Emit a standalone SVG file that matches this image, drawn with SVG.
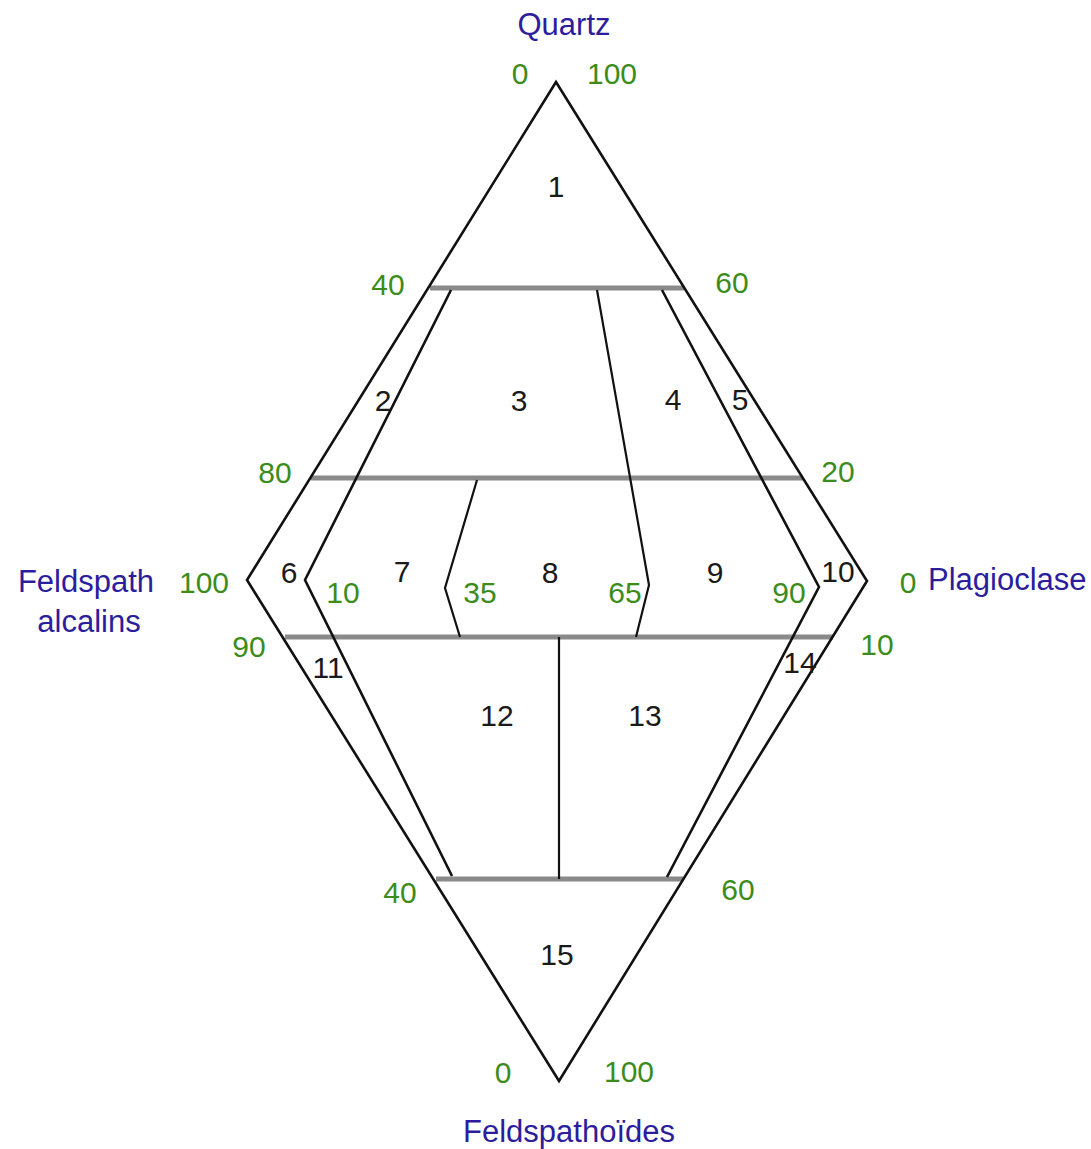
<svg xmlns="http://www.w3.org/2000/svg" width="1091" height="1149" viewBox="0 0 1091 1149">
<style>
.edge{fill:none;stroke:#111;stroke-width:2.6;stroke-linejoin:miter}
.thin{fill:none;stroke:#111;stroke-width:2.2}
.grid{stroke:#8a8a8a;stroke-width:5;fill:none}
text{font-family:"Liberation Sans",Arial,sans-serif;font-size:30px;text-anchor:middle}
.num{fill:#1a1a1a}
.pct{fill:#3c8c1c}
.pole{fill:#2b1d9b;font-size:31px}
</style>
<rect width="1091" height="1149" fill="#fff"/>
<g id="grid-lines">
<line class="grid" x1="430" y1="288" x2="684" y2="288"/>
<line class="grid" x1="311" y1="478" x2="803" y2="478"/>
<line class="grid" x1="285" y1="637" x2="833" y2="637"/>
<line class="grid" x1="436" y1="879" x2="683" y2="879"/>
</g>
<g id="connectors">
<polygon class="edge" points="556,82 247,580 559,1081 867,581"/>
<polyline class="edge" points="451,290 305,580 452,876"/>
<polyline class="edge" points="662,290 819,587 667,877"/>
<polyline class="thin" points="597,290 649,585 636,637"/>
<polyline class="thin" points="477,480 445,588 460,637"/>
<line class="thin" x1="559" y1="637" x2="559" y2="879"/>
</g>
<g id="poles">
<g id="pole-Q"><text class="pole" x="564" y="35">Quartz</text></g>
<g id="pole-A"><text class="pole" x="86" y="592">Feldspath</text><text class="pole" x="89" y="632">alcalins</text></g>
<g id="pole-P"><text class="pole" x="928" y="590" style="text-anchor:start">Plagioclase</text></g>
<g id="pole-F"><text class="pole" x="569" y="1142">Feldspathoïdes</text></g>
</g>
<g id="scale">
<text class="pct" x="520" y="84">0</text>
<text class="pct" x="612" y="84">100</text>
<text class="pct" x="388" y="295">40</text>
<text class="pct" x="732" y="293">60</text>
<text class="pct" x="275" y="483">80</text>
<text class="pct" x="838" y="482">20</text>
<text class="pct" x="204" y="593">100</text>
<text class="pct" x="343" y="603">10</text>
<text class="pct" x="480" y="603">35</text>
<text class="pct" x="625" y="603">65</text>
<text class="pct" x="789" y="603">90</text>
<text class="pct" x="908" y="593">0</text>
<text class="pct" x="249" y="657">90</text>
<text class="pct" x="877" y="655">10</text>
<text class="pct" x="400" y="903">40</text>
<text class="pct" x="738" y="900">60</text>
<text class="pct" x="503" y="1083">0</text>
<text class="pct" x="629" y="1082">100</text>
</g>
<g id="field-1"><text class="num" x="556" y="197">1</text></g>
<g id="field-2"><text class="num" x="383" y="411">2</text></g>
<g id="field-3"><text class="num" x="519" y="411">3</text></g>
<g id="field-4"><text class="num" x="673" y="410">4</text></g>
<g id="field-5"><text class="num" x="740" y="410">5</text></g>
<g id="field-6"><text class="num" x="289" y="583">6</text></g>
<g id="field-7"><text class="num" x="402" y="582">7</text></g>
<g id="field-8"><text class="num" x="550" y="583">8</text></g>
<g id="field-9"><text class="num" x="715" y="583">9</text></g>
<g id="field-10"><text class="num" x="838" y="582">10</text></g>
<g id="field-11"><text class="num" x="328" y="678">11</text></g>
<g id="field-12"><text class="num" x="497" y="726">12</text></g>
<g id="field-13"><text class="num" x="645" y="726">13</text></g>
<g id="field-14"><text class="num" x="800" y="673">14</text></g>
<g id="field-15"><text class="num" x="557" y="965">15</text></g>
</svg>
